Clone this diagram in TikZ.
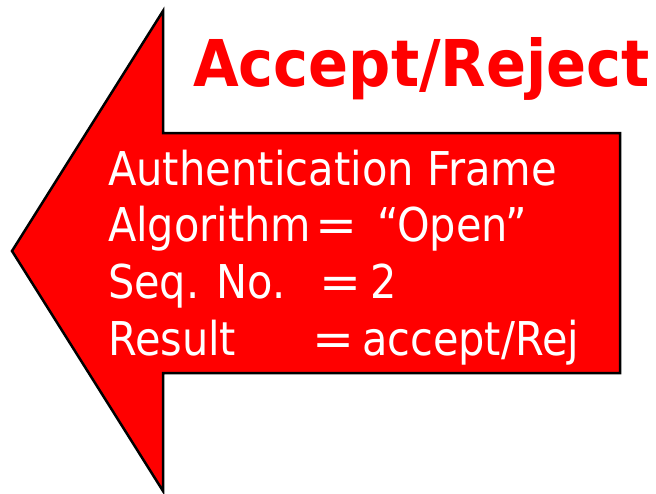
\documentclass[tikz,border=0pt]{standalone}
\usepackage{fontspec}
\setmainfont{DejaVu Sans}
\newfontfamily\bodyf{DejaVu Sans}
\begin{document}
\begin{tikzpicture}[x=1pt,y=-1pt,
  txt/.style={anchor=base west, inner sep=0pt, outer sep=0pt, text=white, font=\bodyf\fontsize{46.6}{50}\selectfont},
  ttl/.style={anchor=base west, inner sep=0pt, outer sep=0pt, text=red, font=\bodyf\bfseries\fontsize{64.5}{70}\selectfont},
  arrowshape/.style={draw=black, line width=2.5pt, fill=red, line join=miter}]
\pgfmathsetmacro\fx{0.89}%
\newcommand\eqsign{\resizebox{42pt}{\height}{=}}%
\useasboundingbox (0,0) rectangle (656,493);
\fill[white] (0,0) rectangle (656,493);
\draw[arrowshape] (163,11) -- (12,251) -- (163,491) -- (163,373) -- (620,373) -- (620,133) -- (163,133) -- cycle;
\node[ttl] (title) at (193,86) {\resizebox{457pt}{\height}{Accept/Reject}};
\node[txt] (l1) at (108,185) {\resizebox{449pt}{\height}{Authentication Frame}};
\node[txt] (l2a) at (108,241) {\scalebox{\fx}[1]{Algorithm}};
\node[txt] (l2b) at (315,241) {\eqsign};
\node[txt] (l2c) at (377,241) {\scalebox{\fx}[1]{“Open”}};
\node[txt] (l3a) at (108,298) {\scalebox{\fx}[1]{Seq. No.}};
\node[txt] (l3b) at (319,298) {\eqsign};
\node[txt] (l3c) at (370,298) {\scalebox{\fx}[1]{2}};
\node[txt] (l4a) at (108,355) {\scalebox{\fx}[1]{Result}};
\node[txt] (l4b) at (312,355) {\eqsign};
\node[txt] (l4c) at (362,355) {\scalebox{\fx}[1]{accept/Rej}};
\end{tikzpicture}
\end{document}
